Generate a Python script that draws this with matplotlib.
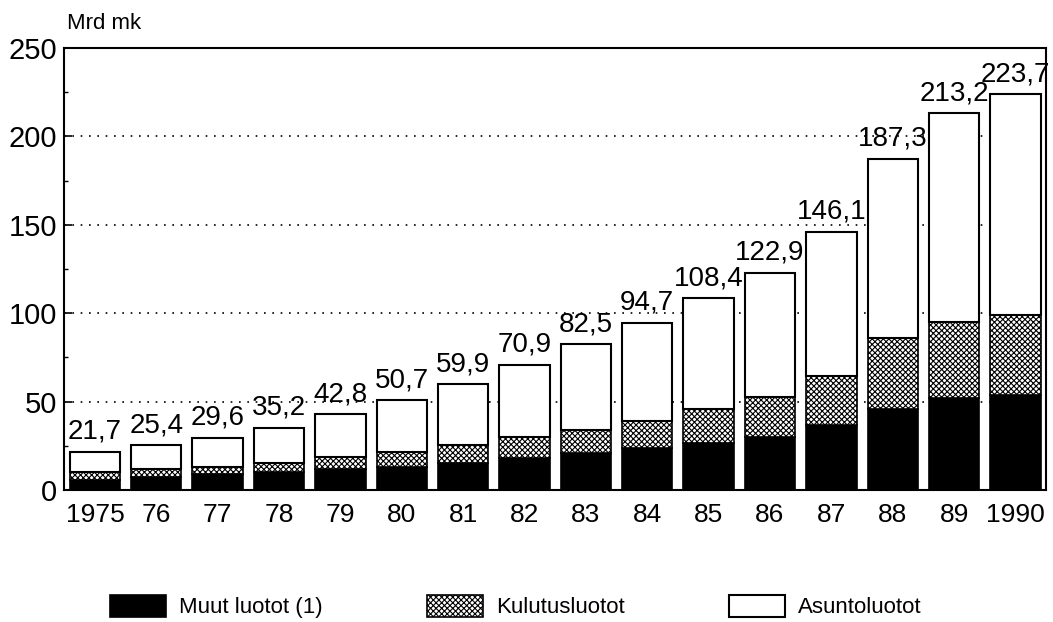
import matplotlib
matplotlib.use('Agg')
import matplotlib.pyplot as plt
import numpy as np

plt.rcParams['font.family'] = ['Liberation Sans', 'DejaVu Sans']
plt.rcParams['hatch.linewidth'] = 0.8

vuodet = ['1975', '76', '77', '78', '79', '80', '81', '82', '83', '84',
          '85', '86', '87', '88', '89', '1990']
muut = [6, 7.5, 9, 10, 12, 13, 15.5, 18, 21, 24, 26.5, 30, 37, 46, 52, 54]
kulutus = [4, 4.5, 4, 5.3, 6.7, 8.5, 10, 12, 13, 15, 19.3, 22.6, 27.5, 40, 43, 45]
asunto = [11.7, 13.4, 16.6, 19.9, 24.1, 29.2, 34.4, 40.9, 48.5, 55.7, 62.6,
          70.3, 81.6, 101.3, 118.2, 124.7]
yhteensa = [21.7, 25.4, 29.6, 35.2, 42.8, 50.7, 59.9, 70.9, 82.5, 94.7,
            108.4, 122.9, 146.1, 187.3, 213.2, 223.7]

x = np.arange(len(vuodet))
w = 0.82

fig = plt.figure(figsize=(10.53, 6.22), dpi=100)
ax = fig.add_axes([0.061, 0.212, 0.9325, 0.711])

b1 = ax.bar(x, muut, w, color='black', edgecolor='black', lw=1.2,
            label='Muut luotot (1)', zorder=3)
b2 = ax.bar(x, kulutus, w, bottom=muut, color='white', edgecolor='black',
            hatch='xxxxxx', lw=1.2, label='Kulutusluotot', zorder=3)
pohja = np.array(muut) + np.array(kulutus)
b3 = ax.bar(x, asunto, w, bottom=pohja, color='white', edgecolor='black',
            lw=1.5, label='Asuntoluotot', zorder=3)

for xi, t in zip(x, yhteensa):
    ax.annotate(f'{t:.1f}'.replace('.', ','), (xi, t), xytext=(0, 5),
                textcoords='offset points', ha='center', va='bottom',
                fontsize=20, zorder=4)

ax.set_xlim(-0.5, 15.5)
ax.set_ylim(0, 250)
ax.set_yticks([0, 50, 100, 150, 200, 250])
ax.set_yticks(np.arange(0, 251, 25), minor=True)
ax.set_xticks(x)
ax.set_xticklabels(vuodet)
ax.tick_params(axis='y', direction='in', length=6, width=1.2, labelsize=21, pad=5)
ax.tick_params(axis='y', which='minor', direction='in', length=3, width=1)
ax.tick_params(axis='x', length=0, labelsize=19, pad=9)
for y in [50, 100, 150, 200]:
    ax.axhline(y, color='black', ls=(0, (1, 4)), lw=1.2, zorder=1)
for s in ax.spines.values():
    s.set_linewidth(1.5)

fig.text(0.064, 0.945, 'Mrd mk', fontsize=16, ha='left', va='bottom')

fig.legend(handles=[b1, b2, b3], loc='center', bbox_to_anchor=(0.49, 0.025),
           ncol=3, frameon=False, fontsize=16, handlelength=2.5,
           handleheight=1.2, columnspacing=4.7, handletextpad=0.6)

plt.savefig('out.png', dpi=100)
